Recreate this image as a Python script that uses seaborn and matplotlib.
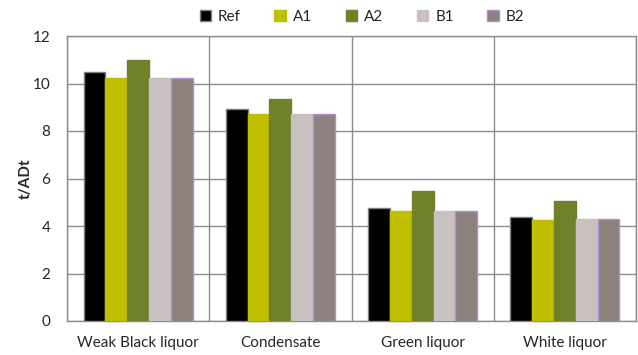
import matplotlib
matplotlib.use("Agg")
import matplotlib.pyplot as plt
import seaborn as sns
import pandas as pd
from matplotlib.patches import Patch

categories = ["Weak Black liquor", "Condensate", "Green liquor", "White liquor"]
series = ["Ref", "A1", "A2", "B1", "B2"]
ref = [10.47, 8.94, 4.77, 4.39]
a1 = [10.22, 8.72, 4.65, 4.25]
a2 = [10.99, 9.35, 5.49, 5.04]
b1 = [10.22, 8.72, 4.65, 4.29]
b2 = [10.22, 8.72, 4.65, 4.29]
y_ticks = [0, 2, 4, 6, 8, 10, 12]

fills = ["#000000", "#BFBF00", "#6F812B", "#C9C1BF", "#8C817C"]
edges = ["#7F7F7F", "#BFBF00", "#6F812B", "#C9C1BF", "#B08FD8"]

rows = []
for name, vals in zip(series, [ref, a1, a2, b1, b2]):
    for cat, v in zip(categories, vals):
        rows.append({"category": cat, "series": name, "value": v})
df = pd.DataFrame(rows)

sns.set_style("white")
plt.rcParams["font.family"] = ["Lato", "DejaVu Sans"]
fs = 11

fig = plt.figure(figsize=(6.38, 3.55), dpi=100)
ax = fig.add_axes([67 / 638, 1 - 321 / 355, (636 - 67) / 638, (321 - 36) / 355])

sns.barplot(data=df, x="category", y="value", hue="series", order=categories,
            hue_order=series, palette=fills, width=0.767, saturation=1,
            errorbar=None, ax=ax, legend=False, zorder=3)

for i, cont in enumerate(ax.containers):
    for bar in cont:
        bar.set_edgecolor(edges[i])
        bar.set_linewidth(1.0)

ax.set_xlim(-0.5, len(categories) - 0.5)
ax.set_ylim(0, 12)
ax.set_yticks(y_ticks)
ax.set_yticklabels([str(t) for t in y_ticks], fontsize=fs)
ax.set_xticks(range(len(categories)))
ax.set_xticklabels(categories, fontsize=fs)
ax.set_xticks([i + 0.5 for i in range(-1, len(categories))], minor=True)
ax.tick_params(axis="x", which="major", length=0, pad=11)
ax.tick_params(axis="x", which="minor", length=5, color="#8C8C8C", width=1)
ax.tick_params(axis="y", length=5, color="#8C8C8C", width=1, pad=7)
ax.grid(axis="y", which="major", color="#8C8C8C", linewidth=1, zorder=0)
ax.grid(axis="x", which="minor", color="#8C8C8C", linewidth=1, zorder=0)
ax.grid(axis="x", which="major", visible=False)
for s in ax.spines.values():
    s.set_color("#8C8C8C")
    s.set_linewidth(1)
ax.set_xlabel("")
ax.set_ylabel("t/ADt", fontsize=fs, fontweight="bold", labelpad=0)

handles = [Patch(facecolor=f, edgecolor=e, label=n) for n, f, e in zip(series, fills, edges)]
fig.legend(handles=handles, loc="center", bbox_to_anchor=(362 / 638, 1 - 17 / 355),
           ncol=5, frameon=False, fontsize=fs, handlelength=0.75, handleheight=0.75,
           handletextpad=0.45, columnspacing=2.2)

fig.savefig("out.png", dpi=100)
